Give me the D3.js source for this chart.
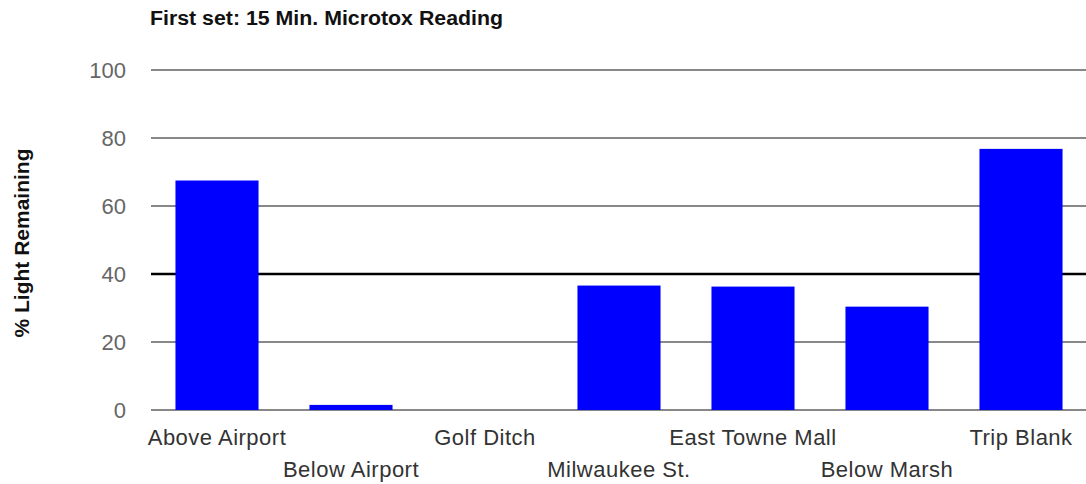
<!DOCTYPE html>
<html>
<head>
<meta charset="utf-8">
<script src="https://cdn.jsdelivr.net/npm/d3@7"></script>
<style>
  body { margin: 0; background: #fff; }
  svg { display: block; }
</style>
</head>
<body>
<div class="chart"></div>
<script>
// chart values
var sites = ["Above Airport", "Below Airport", "Golf Ditch", "Milwaukee St.",
             "East Towne Mall", "Below Marsh", "Trip Blank"];
var lightRemaining = [67.5, 1.5, 0, 36.6, 36.3, 30.4, 76.8];
var yTicks = [0, 20, 40, 60, 80, 100];
var chartTitle = "First set: 15 Min. Microtox Reading";
var yTitle = "% Light Remaining";

drawchart();

function drawchart() {
  var svgWidth = 1086, svgHeight = 484;

  var svg = d3.select(".chart")
    .append("svg")
      .attr("width", svgWidth)
      .attr("height", svgHeight);

  var x = d3.scaleBand()
    .domain(sites)
    .range([150, 1088])
    .paddingInner(0.38)
    .paddingOuter(0.19);

  var y = d3.scaleLinear()
    .domain([0, 100])
    .range([410, 70]);

  // gridlines (the 40 line is drawn black)
  svg.append("g")
    .selectAll("line")
    .data(yTicks)
    .enter()
    .append("line")
      .attr("x1", 151)
      .attr("x2", svgWidth)
      .attr("y1", function(d){ return y(d); })
      .attr("y2", function(d){ return y(d); })
      .attr("stroke", function(d){ return d === 40 ? "#000" : "#888"; })
      .attr("stroke-width", function(d){ return d === 40 ? 2.5 : 2; });

  // y tick labels
  svg.append("g")
    .selectAll("text")
    .data(yTicks)
    .enter()
    .append("text")
      .attr("x", 126)
      .attr("y", function(d){ return y(d); })
      .attr("dy", "0.36em")
      .attr("text-anchor", "end")
      .attr("font-family", "Liberation Sans, Arial, sans-serif")
      .attr("font-size", 22)
      .attr("fill", "#666")
      .text(function(d){ return d; });

  // bars
  svg.append("g")
    .selectAll("rect")
    .data(sites)
    .enter()
    .append("rect")
      .attr("x", function(d){ return x(d); })
      .attr("width", x.bandwidth())
      .attr("y", function(d, i){ return y(lightRemaining[i]); })
      .attr("height", function(d, i){ return y(0) - y(lightRemaining[i]); })
      .attr("fill", "#0000ff");

  // category labels, staggered on two rows
  svg.append("g")
    .selectAll("text")
    .data(sites)
    .enter()
    .append("text")
      .attr("x", function(d){ return x(d) + x.bandwidth() / 2; })
      .attr("y", function(d, i){ return i % 2 === 0 ? 445 : 477; })
      .attr("text-anchor", "middle")
      .attr("font-family", "Liberation Sans, Arial, sans-serif")
      .attr("font-size", 22)
      .attr("letter-spacing", 0.5)
      .attr("fill", "#333")
      .text(function(d){ return d; });

  // title
  svg.append("text")
    .attr("x", 150)
    .attr("y", 25)
    .attr("font-family", "Liberation Sans, Arial, sans-serif")
    .attr("font-weight", "bold")
    .attr("font-size", 20)
    .attr("textLength", 353)
    .attr("lengthAdjust", "spacingAndGlyphs")
    .attr("fill", "#111")
    .text(chartTitle);

  // y axis title
  svg.append("text")
    .attr("transform", "translate(29,243) rotate(-90)")
    .attr("text-anchor", "middle")
    .attr("font-family", "Liberation Sans, Arial, sans-serif")
    .attr("font-weight", "bold")
    .attr("font-size", 20)
    .attr("textLength", 189)
    .attr("lengthAdjust", "spacingAndGlyphs")
    .attr("fill", "#111")
    .text(yTitle);
}
</script>
</body>
</html>
